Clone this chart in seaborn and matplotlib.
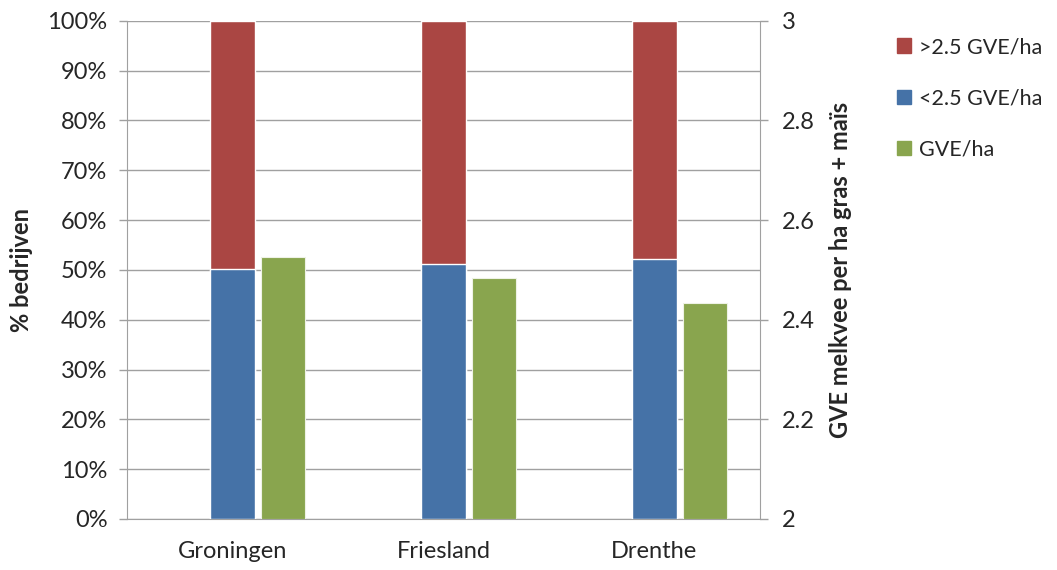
import numpy as np
import pandas as pd
import matplotlib
matplotlib.use('Agg')
import matplotlib.pyplot as plt
import seaborn as sns
from matplotlib.patches import Patch
from matplotlib.ticker import MultipleLocator, FuncFormatter

# data
provinces = ['Groningen', 'Friesland', 'Drenthe']
below_25 = [50.1, 51.2, 52.2]          # % bedrijven <2.5 GVE/ha
above_25 = [100 - v for v in below_25]  # % bedrijven >2.5 GVE/ha
gve_per_ha = [2.525, 2.484, 2.433]     # GVE melkvee per ha gras + mais

c_red = '#AA4643'
c_blue = '#4572A7'
c_green = '#89A54E'
grey = '#A0A0A0'

sns.set_style('white')
plt.rcParams['font.family'] = ['Lato', 'DejaVu Sans']

df = pd.DataFrame({'prov': provinces, 'low': below_25, 'high': above_25})
df['total'] = df['low'] + df['high']

fig = plt.figure(figsize=(10.57, 5.70), dpi=100)
ax = fig.add_axes([0.120, 0.0895, 0.599, 0.874])

# stacked bar: full total in red, blue part drawn over it
sns.barplot(data=df, x='prov', y='total', color=c_red, width=0.21,
            saturation=1, ax=ax, zorder=3)
sns.barplot(data=df, x='prov', y='low', color=c_blue, width=0.21,
            saturation=1, ax=ax, zorder=3)

ax2 = ax.twinx()
pos = np.arange(len(provinces)) + 0.24
ax2.bar(pos, np.array(gve_per_ha) - 2, bottom=2, width=0.205,
        color=c_green, edgecolor='#eef2e6', linewidth=0.8, zorder=3)

ax.set_xlim(-0.5, 2.5)
ax.set_ylim(0, 100)
ax2.set_ylim(2, 3)

ax.yaxis.set_major_locator(MultipleLocator(10))
ax.yaxis.set_major_formatter(FuncFormatter(lambda v, p: f'{v:.0f}%'))
ax2.yaxis.set_major_locator(MultipleLocator(0.2))
ax2.yaxis.set_major_formatter(FuncFormatter(lambda v, p: f'{v:g}'))

ax.grid(axis='y', color=grey, linewidth=1.0, zorder=0)
ax.set_axisbelow(True)

for a in (ax, ax2):
    for s in a.spines.values():
        s.set_visible(False)
ax.spines['left'].set_visible(True)
ax.spines['left'].set_color(grey)
ax.spines['bottom'].set_visible(True)
ax.spines['bottom'].set_color(grey)
ax2.spines['right'].set_visible(True)
ax2.spines['right'].set_color(grey)

# category ticks sit between the groups
ax.set_xticks(np.arange(len(provinces)))
ax.set_xticklabels(provinces)
ax.set_xticks(np.arange(-0.5, 3.0, 1.0), minor=True)
ax.tick_params(axis='x', which='major', length=0, pad=16, labelsize=17)
ax.tick_params(axis='x', which='minor', length=9, color=grey, width=1)
ax.tick_params(axis='y', length=6, color=grey, width=1, labelsize=17, pad=8,
               left=True)
ax2.tick_params(axis='y', length=6, color=grey, width=1, labelsize=17, pad=10,
                right=True)

ax.set_xlabel('')
ax.set_ylabel('% bedrijven', fontsize=17, fontweight='bold', labelpad=10)
ax2.set_ylabel('GVE melkvee per ha gras + maïs', fontsize=17,
               fontweight='bold', labelpad=10)

handles = [Patch(color=c_red, label='>2.5 GVE/ha'),
           Patch(color=c_blue, label='<2.5 GVE/ha'),
           Patch(color=c_green, label='GVE/ha')]
fig.legend(handles=handles, loc='upper left', bbox_to_anchor=(0.849, 0.935),
           frameon=False, fontsize=15.5, handlelength=0.65, handleheight=0.65,
           handletextpad=0.35, labelspacing=1.45, borderpad=0,
           borderaxespad=0)

fig.savefig('out.png', dpi=100)
